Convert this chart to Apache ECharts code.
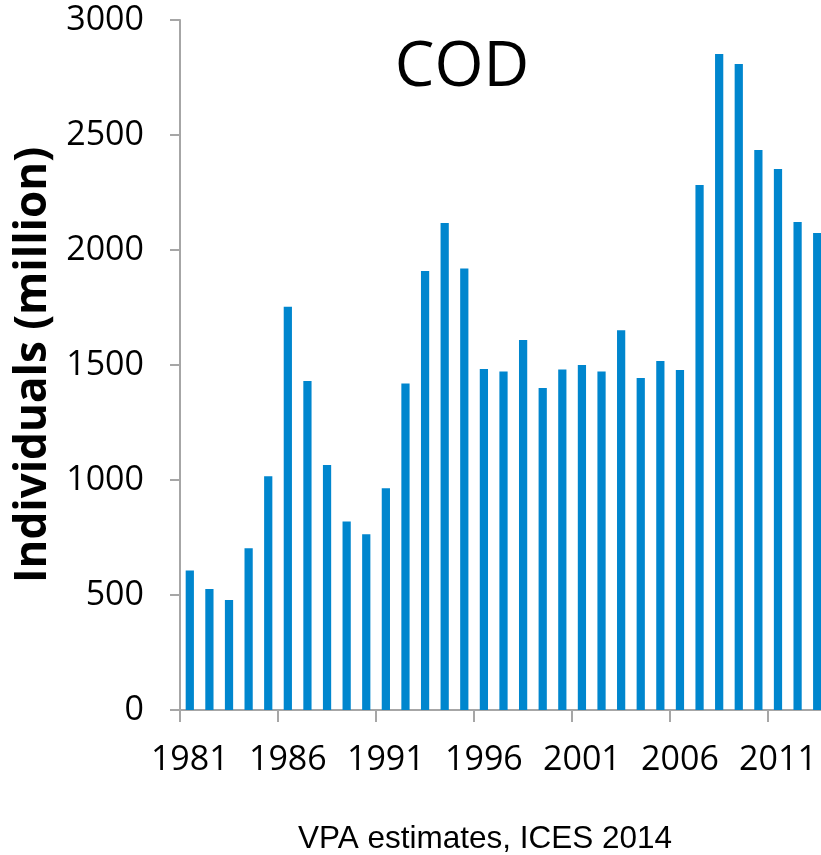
<!DOCTYPE html>
<html>
<head>
<meta charset="utf-8">
<script src="https://cdn.jsdelivr.net/npm/echarts@6/dist/echarts.min.js"></script>
<style>
html,body{margin:0;padding:0;background:#fff;}
#chart{width:821px;height:855px;}
</style>
</head>
<body>
<div id="chart"></div>
<script>
const years = ['1981','1982','1983','1984','1985','1986','1987','1988','1989','1990','1991','1992','1993','1994','1995','1996','1997','1998','1999','2000','2001','2002','2003','2004','2005','2006','2007','2008','2009','2010','2011','2012','2013'];
const individuals = [607,526,478,703,1016,1753,1430,1065,820,764,964,1420,1909,2117,1920,1483,1472,1609,1400,1480,1500,1472,1651,1443,1517,1478,2283,2852,2809,2435,2352,2122,2074];
const yTicks = [0,500,1000,1500,2000,2500,3000];
const titleText = 'COD';
const yTitle = 'Individuals (million)';
const footer = 'VPA estimates, ICES 2014';

const chart = echarts.init(document.getElementById('chart'), null, {renderer:'canvas'});
const axisGray = '#A6A6A6';
const labelFont = '"Open Sans", sans-serif';
chart.setOption({
  animation:false,
  backgroundColor:'#ffffff',
  grid:{left:180, top:20, height:690, width:647, containLabel:false, outerBoundsMode:'none'},
  xAxis:{
    type:'category',
    data:years,
    boundaryGap:true,
    axisLine:{show:true, lineStyle:{color:axisGray, width:2}},
    axisTick:{show:true, interval:4, length:12, alignWithLabel:false, lineStyle:{color:axisGray, width:2}},
    axisLabel:{interval:4, margin:33, color:'#000', fontSize:34, fontFamily:labelFont},
    splitLine:{show:false}
  },
  yAxis:{
    type:'value',
    min:yTicks[0], max:yTicks[yTicks.length-1], interval:500,
    name:yTitle,
    nameLocation:'middle',
    nameRotate:90,
    nameGap:120,
    nameTextStyle:{fontSize:44, fontWeight:'bold', color:'#000', fontFamily:labelFont},
    axisLine:{show:true, lineStyle:{color:axisGray, width:2}},
    axisTick:{show:true, length:10, lineStyle:{color:axisGray, width:2}},
    axisLabel:{margin:36, color:'#000', fontSize:34, fontFamily:labelFont, formatter:function(v){return String(v);}},
    splitLine:{show:false}
  },
  graphic:[
    {type:'text', x:462, y:68, style:{text:titleText, fontSize:63, fontFamily:labelFont, fill:'#000', textAlign:'center', textVerticalAlign:'middle'}},
    {type:'text', x:485, y:839, style:{text:footer, fontSize:31.5, fontFamily:'"Liberation Sans", Arial, sans-serif', fill:'#000', textAlign:'center', textVerticalAlign:'middle'}}
  ],
  series:[{
    type:'bar',
    data:individuals,
    barWidth:'42%',
    itemStyle:{color:'#0086CE'}
  }]
});
</script>
</body>
</html>
